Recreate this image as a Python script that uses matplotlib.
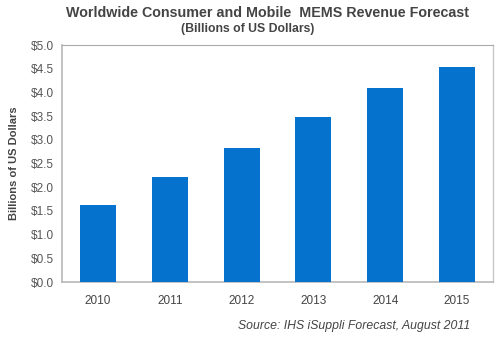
import matplotlib
matplotlib.use("Agg")
import matplotlib.pyplot as plt

years = ["2010", "2011", "2012", "2013", "2014", "2015"]
revenue = [1.62, 2.22, 2.83, 3.48, 4.09, 4.54]
yticks = [0.0, 0.5, 1.0, 1.5, 2.0, 2.5, 3.0, 3.5, 4.0, 4.5, 5.0]

plt.rcParams['font.family'] = ['Liberation Sans', 'DejaVu Sans']
fig = plt.figure(figsize=(5, 3.37), dpi=100)
ax = fig.add_axes([0.124, 0.163, 0.862, 0.703])
x = range(len(years))
ax.bar(x, revenue, width=0.5, color="#0572CE", zorder=3)
ax.set_xlim(-0.5, 5.5)
ax.set_ylim(0, 5.0)
ax.set_yticks(yticks)
ax.set_yticklabels([f"${v:.1f}" for v in yticks], fontsize=8.5, color="#555555")
ax.set_xticks(list(x))
ax.set_xticklabels(years, fontsize=8.5, color="#444444")
ax.tick_params(length=0, pad=6)
ax.tick_params(axis='x', pad=9)
for s in ["left", "bottom"]:
    ax.spines[s].set_color("#b8b8b8")
    ax.spines[s].set_linewidth(1.2)
ax.spines["top"].set_color("#aaaaaa")
ax.spines["top"].set_linestyle((0, (2, 1)))
ax.spines["top"].set_linewidth(0.8)
ax.spines["right"].set_color("#c8c8c8")
ax.spines["right"].set_linewidth(1.0)
ax.set_ylabel("Billions of US Dollars", fontsize=8, fontweight="bold", color="#444444", labelpad=8)
fig.text(0.535, 0.962, "Worldwide Consumer and Mobile  MEMS Revenue Forecast", ha="center", va="center",
         fontsize=10.3, fontweight="bold", color="#444444")
fig.text(0.496, 0.915, "(Billions of US Dollars)", ha="center", va="center",
         fontsize=8.8, fontweight="bold", color="#444444")
fig.text(0.94, 0.033, "Source: IHS iSuppli Forecast, August 2011", ha="right", va="center",
         fontsize=8.8, style="italic", color="#444444")
fig.savefig("out.png", dpi=100)
